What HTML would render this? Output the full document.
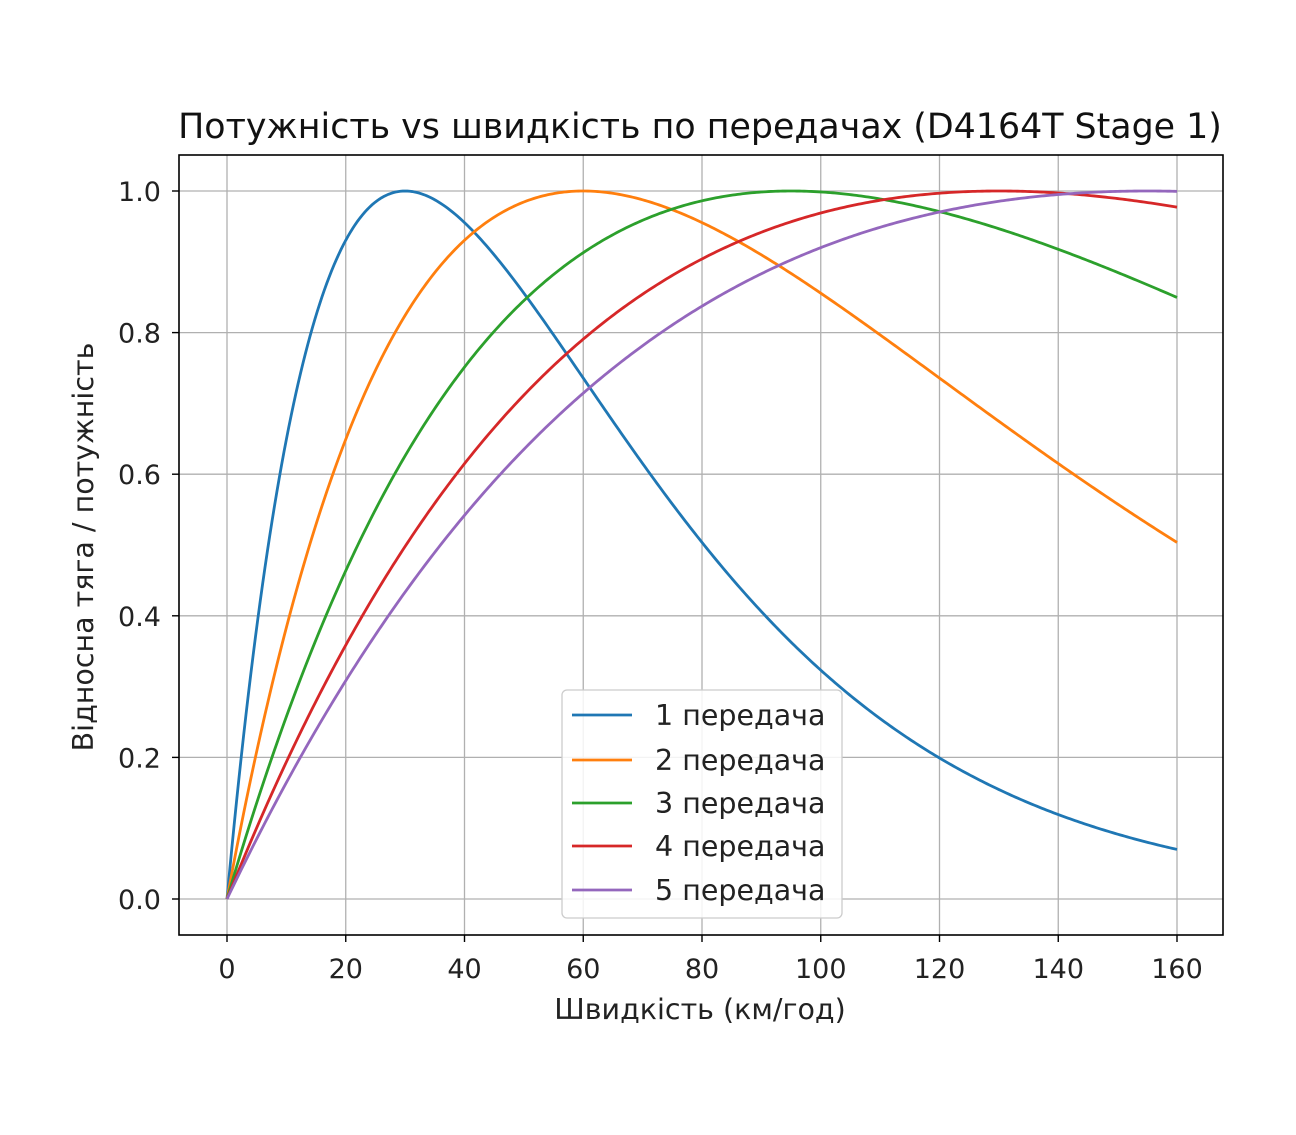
<!DOCTYPE html>
<html><head><meta charset="utf-8"><style>
body{margin:0;background:#fff;}
svg{display:block;font-family:"DejaVu Sans","Liberation Sans",sans-serif;}
</style></head><body>
<svg id="s" width="1296" height="1135" viewBox="0 0 1296 1135" xmlns="http://www.w3.org/2000/svg">
<rect width="1296" height="1135" fill="#fff"/>
<g id="grid" stroke="#b0b0b0" stroke-width="1.3"></g>
<g id="curves" fill="none" stroke-width="2.8"></g>
<rect x="179" y="155" width="1044" height="780" fill="none" stroke="#000" stroke-width="1.6"/>
<g id="ticks" stroke="#000" stroke-width="1.4"></g>
<g id="labels" font-size="27" fill="#222"></g>
<text x="700" y="138" font-size="34.8" text-anchor="middle" fill="#111">Потужність vs швидкість по передачах (D4164T Stage 1)</text>
<text x="700" y="1019" font-size="28.5" text-anchor="middle" fill="#222">Швидкість (км/год)</text>
<text transform="translate(93,547) rotate(-90)" font-size="28.5" text-anchor="middle" fill="#222">Відносна тяга / потужність</text>
<g>
<rect x="562" y="690" width="280" height="228" rx="5" fill="#fff" fill-opacity="0.85" stroke="#ccc" stroke-width="1.3"/>
<g id="legend" font-size="28.5" fill="#222" stroke-width="2.8"></g>
</g>
</svg>
<script>
var X=function(v){return 227+v*5.9375},Y=function(f){return 899-f*708};
var g=document.getElementById('grid'),t=document.getElementById('ticks'),l=document.getElementById('labels'),c=document.getElementById('curves'),lg=document.getElementById('legend');
var h='',tk='',lb='';
for(var v=0;v<=160;v+=20){var x=X(v);h+='<line x1="'+x+'" y1="155" x2="'+x+'" y2="935"/>';tk+='<line x1="'+x+'" y1="935" x2="'+x+'" y2="942"/>';lb+='<text x="'+x+'" y="978" text-anchor="middle">'+v+'</text>';}
for(var i=0;i<=5;i++){var f=i*0.2,y=Y(f);h+='<line x1="179" y1="'+y+'" x2="1223" y2="'+y+'"/>';tk+='<line x1="172" y1="'+y+'" x2="179" y2="'+y+'"/>';lb+='<text x="161" y="'+(y+10)+'" text-anchor="end">'+f.toFixed(1)+'</text>';}
g.innerHTML=h;t.innerHTML=tk;l.innerHTML=lb;
var peaks=[30,60,95,130,155],cols=['#1f77b4','#ff7f0e','#2ca02c','#d62728','#9467bd'],cs='',ls='';
var ly=[715,760,803,846,890];
for(var k=0;k<5;k++){var p=peaks[k],d='';for(var s=0;s<=400;s++){var v=s*0.4,r=v/p,f=r*Math.exp(1-r);d+=(s?'L':'M')+X(v).toFixed(2)+' '+Y(f).toFixed(2);}
cs+='<path d="'+d+'" stroke="'+cols[k]+'"/>';
ls+='<line x1="572" y1="'+ly[k]+'" x2="632" y2="'+ly[k]+'" stroke="'+cols[k]+'"/><text x="655" y="'+(ly[k]+10)+'">'+(k+1)+' передача</text>';}
c.innerHTML=cs;lg.innerHTML=ls;
</script>
</body></html>
